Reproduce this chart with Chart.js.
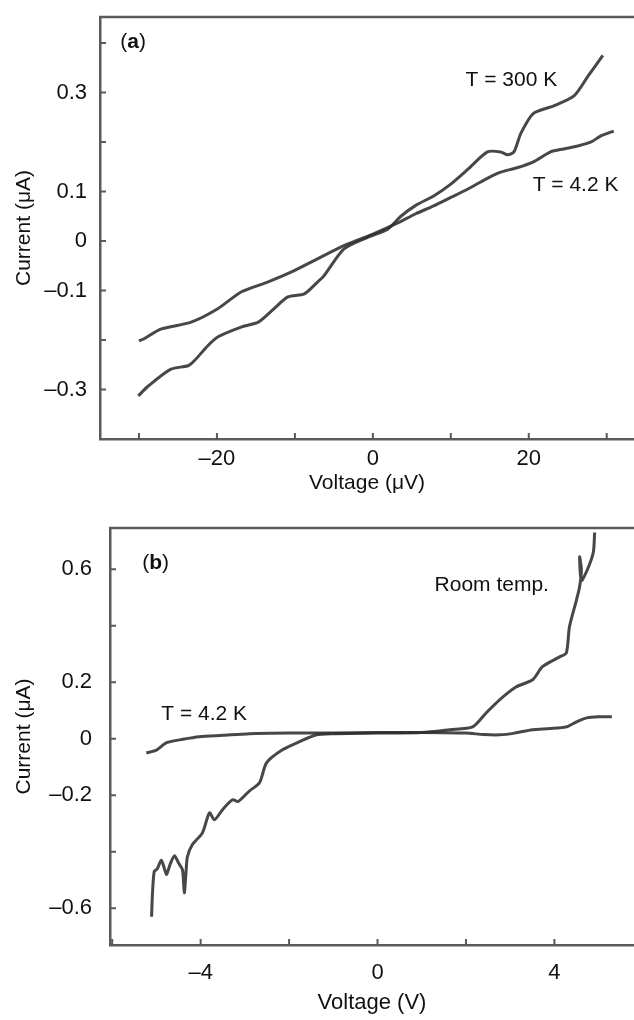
<!DOCTYPE html>
<html>
<head>
<meta charset="utf-8">
<script src="https://cdn.jsdelivr.net/npm/chart.js@4.4.1/dist/chart.umd.min.js"></script>
<style>
  html, body { margin: 0; padding: 0; background: #fff; overflow: hidden; }
  canvas { position: absolute; left: 0; }
  #chartA { top: 0; }
  #chartB { top: 500px; }
</style>
</head>
<body>
<canvas id="chartA" width="634" height="500"></canvas>
<canvas id="chartB" width="634" height="520"></canvas>
<script>
// (a) low bias, voltage in microvolts, current in microamps
const voltA300 = [-30.1, -28.8, -25.9, -23.7, -22.9, -21.2, -19.9, -16.9, -14.7, -12.7, -10.9, -8.8, -7.1, -6.3, -3.7, -0.6, 1.9, 3.6, 5.5, 7.8, 10, 12.2, 14.7, 16.4, 17.3, 18.1, 19, 20.6, 23.2, 25.8, 27.6, 29.5];
const currA300 = [-0.313, -0.293, -0.259, -0.252, -0.242, -0.212, -0.194, -0.174, -0.164, -0.137, -0.113, -0.107, -0.083, -0.071, -0.016, 0.008, 0.024, 0.05, 0.072, 0.091, 0.115, 0.145, 0.18, 0.18, 0.174, 0.18, 0.218, 0.258, 0.273, 0.293, 0.333, 0.375];
const voltA42 = [-30, -29.4, -27.2, -23.3, -19.9, -16.9, -13.5, -10.5, -7.1, -3.5, 0, 3, 5.5, 7.8, 10, 12.2, 14.5, 16.4, 18.5, 20.6, 22.8, 24.5, 26.3, 28, 29.2, 30.9];
const currA42 = [-0.202, -0.198, -0.178, -0.164, -0.137, -0.103, -0.083, -0.063, -0.036, -0.008, 0.014, 0.035, 0.055, 0.071, 0.088, 0.105, 0.125, 0.139, 0.148, 0.16, 0.18, 0.186, 0.192, 0.2, 0.212, 0.222];
const labelsAX = [-20, 0, 20];
const labelsAY = [-0.3, -0.1, 0, 0.1, 0.3];

// (b) high bias, voltage in volts
const voltBRoom = [-5.11, -5.09, -5.05, -4.98, -4.89, -4.8, -4.77, -4.68, -4.59, -4.5, -4.41, -4.37, -4.33, -4.3, -4.19, -3.96, -3.8, -3.69, -3.5, -3.28, -3.15, -2.9, -2.67, -2.51, -2.15, -1.76, -1.38, -1, 0, 1, 1.63, 2.15, 2.46, 2.76, 3.14, 3.51, 3.73, 4.12, 4.27, 4.34, 4.5, 4.57, 4.61, 4.57, 4.61, 4.75, 4.88, 4.91];
const currBRoom = [-0.63, -0.55, -0.47, -0.46, -0.43, -0.47, -0.48, -0.44, -0.414, -0.44, -0.464, -0.545, -0.47, -0.418, -0.375, -0.333, -0.262, -0.287, -0.25, -0.216, -0.222, -0.185, -0.156, -0.085, -0.039, -0.01, 0.014, 0.018, 0.02, 0.022, 0.032, 0.042, 0.092, 0.138, 0.184, 0.209, 0.255, 0.29, 0.304, 0.396, 0.492, 0.538, 0.598, 0.644, 0.56, 0.6, 0.66, 0.73];
const voltB42 = [-5.23, -5.0, -4.77, -4.4, -4.03, -3.5, -2.9, -2, -1, 0, 1, 2, 2.4, 2.76, 3.1, 3.5, 3.9, 4.27, 4.5, 4.73, 5.0, 5.3];
const currB42 = [-0.05, -0.04, -0.014, -0.002, 0.007, 0.012, 0.018, 0.02, 0.02, 0.022, 0.022, 0.02, 0.015, 0.014, 0.02, 0.032, 0.036, 0.042, 0.06, 0.074, 0.078, 0.078];
const labelsBX = [-4, 0, 4];
const labelsBY = [-0.6, -0.2, 0, 0.2, 0.6];

const INK = "#111";
const AXIS = "#5a5a5a";
const TRACE = "rgba(45,45,45,0.88)";
Chart.defaults.font.family = "'Liberation Sans', Arial, Helvetica, sans-serif";
Chart.defaults.color = INK;

function pts(xs, ys) {
  return xs.map(function (x, i) { return { x: x, y: ys[i] }; });
}

// only some ticks carry a number, the rest are bare marks
function tickText(v, shown) {
  const hit = shown.some(function (s) { return Math.abs(s - v) < 1e-6; });
  if (!hit) return "";
  const r = Math.round(v * 1000) / 1000;
  return r < 0 ? "\u2013" + Math.abs(r) : String(r);
}

// text inside the plot, placed in data units
const textLabels = {
  id: "textLabels",
  afterDatasetsDraw(chart, args, opts) {
    const ctx = chart.ctx;
    const x = chart.scales.x, y = chart.scales.y;
    ctx.save();
    ctx.fillStyle = INK;
    ctx.textBaseline = "middle";
    ctx.textAlign = "left";
    opts.items.forEach(function (it) {
      let px = x.getPixelForValue(it.x);
      const py = y.getPixelForValue(it.y);
      it.parts.forEach(function (p) {
        ctx.font = (p.bold ? "bold " : "") + "21px 'Liberation Sans', Arial, sans-serif";
        ctx.fillText(p.t, px, py);
        px += ctx.measureText(p.t).width;
      });
    });
    ctx.restore();
  },
};

// top edge of the frame and small inward tick marks
const frame = {
  id: "frame",
  afterDraw(chart) {
    const ctx = chart.ctx, a = chart.chartArea;
    const x = chart.scales.x, y = chart.scales.y;
    ctx.save();
    ctx.strokeStyle = AXIS;
    ctx.lineWidth = 2.5;
    ctx.beginPath();
    ctx.moveTo(a.left - 1, a.top);
    ctx.lineTo(a.right, a.top);
    ctx.stroke();
    ctx.lineWidth = 2;
    ctx.beginPath();
    x.ticks.forEach(function (t) {
      const px = x.getPixelForValue(t.value);
      ctx.moveTo(px, a.bottom);
      ctx.lineTo(px, a.bottom - 6);
    });
    y.ticks.forEach(function (t) {
      const py = y.getPixelForValue(t.value);
      ctx.moveTo(a.left, py);
      ctx.lineTo(a.left + 6, py);
    });
    ctx.stroke();
    ctx.restore();
  },
};

function axis(cfg) {
  return {
    type: "linear",
    min: cfg.min,
    max: cfg.max,
    afterFit: function (s) {
      cfg.fit(s);
      s.paddingTop = 0; s.paddingBottom = 0; s.paddingLeft = 0; s.paddingRight = 0;
    },
    grid: { display: false, drawTicks: false },
    border: { display: true, color: AXIS, width: 2.5 },
    ticks: {
      stepSize: cfg.step,
      includeBounds: false,
      autoSkip: false,
      maxRotation: 0,
      padding: cfg.pad,
      color: INK,
      font: { size: 22 },
      callback: function (v) { return tickText(v, cfg.labels); },
    },
    title: { display: true, text: cfg.title, color: INK, font: { size: cfg.titleSize }, padding: cfg.titlePad },
  };
}

function line(data) {
  return { data: data, showLine: true, borderColor: TRACE, borderWidth: 3, pointRadius: 0, tension: 0.25, fill: false };
}

// Panel (a)
new Chart(document.getElementById("chartA"), {
  type: "scatter",
  data: { datasets: [line(pts(voltA300, currA300)), line(pts(voltA42, currA42))] },
  options: {
    responsive: false,
    animation: false,
    layout: { padding: { top: 17, right: 0, left: 0, bottom: 0 } },
    plugins: {
      legend: { display: false },
      tooltip: { enabled: false },
      textLabels: {
        items: [
          { x: -32.4, y: 0.402, parts: [{ t: "(" }, { t: "a", bold: true }, { t: ")" }] },
          { x: 11.9, y: 0.325, parts: [{ t: "T = 300 K" }] },
          { x: 20.5, y: 0.113, parts: [{ t: "T = 4.2 K" }] },
        ],
      },
    },
    scales: {
      x: axis({ min: -35, max: 33.5, step: 10, pad: 7, labels: labelsAX, title: "Voltage (\u03bcV)", titleSize: 21,
        titlePad: { top: 0, bottom: 4 }, fit: function (s) { s.height = 61; } }),
      y: axis({ min: -0.4, max: 0.4525, step: 0.1, pad: 13, labels: labelsAY, title: "Current (\u03bcA)", titleSize: 21,
        titlePad: { top: 12, bottom: 12 }, fit: function (s) { s.width = 100; } }),
    },
  },
  plugins: [textLabels, frame],
});

// Panel (b)
new Chart(document.getElementById("chartB"), {
  type: "scatter",
  data: { datasets: [line(pts(voltBRoom, currBRoom)), line(pts(voltB42, currB42))] },
  options: {
    responsive: false,
    animation: false,
    layout: { padding: { top: 28, right: 0, left: 0, bottom: 0 } },
    plugins: {
      legend: { display: false },
      tooltip: { enabled: false },
      textLabels: {
        items: [
          { x: -5.32, y: 0.623, parts: [{ t: "(" }, { t: "b", bold: true }, { t: ")" }] },
          { x: -4.89, y: 0.0885, parts: [{ t: "T = 4.2 K" }] },
          { x: 1.29, y: 0.545, parts: [{ t: "Room temp." }] },
        ],
      },
    },
    scales: {
      x: axis({ min: -6.05, max: 5.8, step: 2, pad: 15, labels: labelsBX, title: "Voltage (V)", titleSize: 22,
        titlePad: { top: 0, bottom: 4 }, fit: function (s) { s.height = 75; } }),
      y: axis({ min: -0.73, max: 0.746, step: 0.2, pad: 18, labels: labelsBY, title: "Current (\u03bcA)", titleSize: 21,
        titlePad: { top: 12, bottom: 12 }, fit: function (s) { s.width = 110; } }),
    },
  },
  plugins: [textLabels, frame],
});
</script>
</body>
</html>
